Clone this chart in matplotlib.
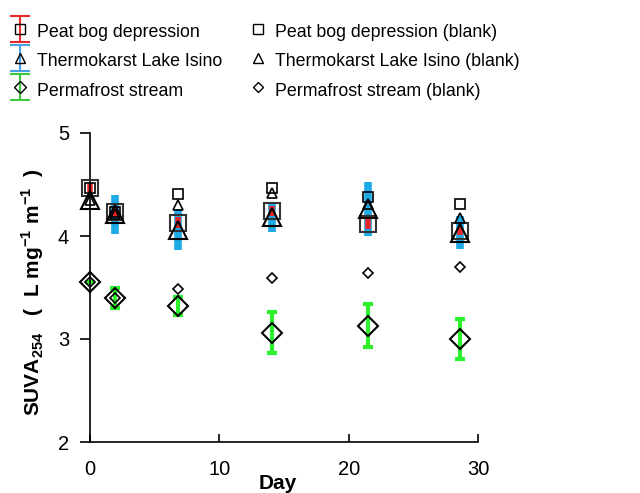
import numpy as np
import matplotlib
matplotlib.use("Agg")
import matplotlib.pyplot as plt
from matplotlib.legend_handler import HandlerErrorbar
from matplotlib.container import ErrorbarContainer

plt.rcParams['font.family'] = ['Liberation Sans', 'DejaVu Sans']
plt.rcParams['mathtext.fontset'] = 'custom'
plt.rcParams['mathtext.rm'] = 'Liberation Sans'
plt.rcParams['mathtext.bf'] = 'Liberation Sans:bold'

# sampling days
days = [0, 1.9, 6.8, 14.1, 21.5, 28.6]

# SUVA254 samples (mean, error)
peat = [4.47, 4.23, 4.13, 4.24, 4.12, 4.05]
peat_err = [0.04, 0.05, 0.05, 0.05, 0.05, 0.04]
isino = [4.35, 4.21, 4.06, 4.18, 4.26, 4.03]
isino_err = [0.0, 0.19, 0.20, 0.14, 0.26, 0.16]
perm = [3.55, 3.40, 3.32, 3.06, 3.13, 3.00]
perm_err = [0.0, 0.10, 0.09, 0.20, 0.21, 0.19]

# blanks
peat_blank = [4.47, 4.23, 4.41, 4.47, 4.38, 4.31]
isino_blank = [4.35, 4.21, 4.30, 4.42, 4.31, 4.17]
perm_blank = [3.55, 3.40, 3.49, 3.59, 3.64, 3.70]

labels = ['Peat bog depression', 'Thermokarst Lake Isino', 'Permafrost stream',
          'Peat bog depression (blank)', 'Thermokarst Lake Isino (blank)',
          'Permafrost stream (blank)']

red = '#e8262b'
blue = '#1eaae6'
green = '#2ef02e'

fig = plt.figure(figsize=(6.4, 4.93), dpi=100)
ax = fig.add_axes([90 / 640, 1 - 442 / 493, 388 / 640, 309 / 493])

ax.errorbar(days, peat, yerr=peat_err, fmt='none', ecolor=red, elinewidth=4,
            capsize=0, zorder=2, clip_on=False)
ax.errorbar(days, isino, yerr=isino_err, fmt='none', ecolor=blue, elinewidth=5.5,
            capsize=0, zorder=1, clip_on=False)
ax.errorbar(days, perm, yerr=perm_err, fmt='none', ecolor=green, elinewidth=3,
            capsize=3.5, capthick=3, zorder=1, clip_on=False)

ax.plot(days, peat, 's', ms=12, mfc='none', mec='#333333', mew=1.5, zorder=3, clip_on=False)
ax.plot(days, isino, '^', ms=13, mfc='none', mec='black', mew=1.5, zorder=3, clip_on=False)
ax.plot(days, perm, 'D', ms=10, mfc='none', mec='black', mew=1.5, zorder=3, clip_on=False)

ax.plot(days, peat_blank, 's', ms=7, mfc='none', mec='black', mew=1.2, zorder=4, clip_on=False)
ax.plot(days, isino_blank, '^', ms=7.5, mfc='none', mec='black', mew=1.2, zorder=4, clip_on=False)
ax.plot(days, perm_blank, 'D', ms=5.5, mfc='none', mec='black', mew=1.2, zorder=4, clip_on=False)

ax.set_xlim(0, 30)
ax.set_ylim(2, 5)
ax.set_xticks([0, 10, 20, 30])
ax.set_yticks([2, 3, 4, 5])
ax.spines['top'].set_visible(False)
ax.spines['right'].set_visible(False)
ax.tick_params(axis='x', direction='in', length=6, width=1.2, pad=13, labelsize=14.5)
ax.tick_params(axis='y', direction='out', length=7, width=1.2, pad=8, labelsize=14.5)
for s in ['left', 'bottom']:
    ax.spines[s].set_linewidth(1.2)

fig.text(278 / 640, 1 - 474 / 493, 'Day', ha='center', va='top',
         fontsize=15, fontweight='bold')
fig.text(33 / 640, 1 - 292 / 493,
         r'SUVA$_\mathbf{254}$   (  L mg$^\mathbf{-1}$ m$^\mathbf{-1}$  )',
         rotation=90, ha='center', va='center', fontsize=15, fontweight='bold')

# legend proxies
h1 = ax.errorbar([np.nan], [np.nan], yerr=[np.nan], fmt='s', ms=7, mfc='none', mec='black',
                 ecolor=red, elinewidth=1.5, capsize=7, capthick=1.5)
h2 = ax.errorbar([np.nan], [np.nan], yerr=[np.nan], fmt='^', ms=7.5, mfc='none', mec='black',
                 ecolor='#4aa0e0', elinewidth=1.5, capsize=7, capthick=1.5)
h3 = ax.errorbar([np.nan], [np.nan], yerr=[np.nan], fmt='D', ms=6, mfc='none', mec='black',
                 ecolor='#3cc83c', elinewidth=1.5, capsize=7, capthick=1.5)
h4, = ax.plot([], [], 's', ms=6.5, mfc='none', mec='black', mew=1.0)
h5, = ax.plot([], [], '^', ms=6.5, mfc='none', mec='black', mew=1.0)
h6, = ax.plot([], [], 'D', ms=5, mfc='none', mec='black', mew=1.0)

fig.legend([h1, h2, h3, h4, h5, h6], labels, ncol=2, loc='upper left',
           bbox_to_anchor=(9.3 / 640, 1 - 20.5 / 493), frameon=False, fontsize=12.8,
           borderpad=0, borderaxespad=0, handlelength=1.2, handletextpad=0.38,
           columnspacing=1.37, labelspacing=0.5, handleheight=1.4,
           handler_map={ErrorbarContainer: HandlerErrorbar(yerr_size=0.73)})

fig.savefig('out.png', dpi=100)
